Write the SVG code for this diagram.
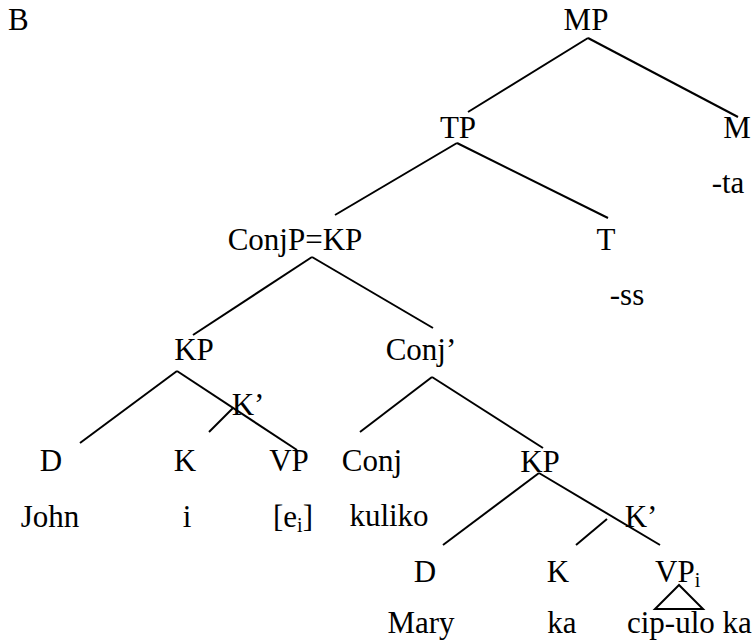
<svg xmlns="http://www.w3.org/2000/svg" width="756" height="642" viewBox="0 0 756 642">
<rect width="756" height="642" fill="#fff"/>
<g font-family="Liberation Serif" font-size="31" fill="#000">
<text x="8" y="30">B</text>
<g id="connectors" stroke="#000" stroke-width="2" fill="none">
<line x1="588" y1="38" x2="468" y2="112"/>
<line x1="588" y1="38" x2="738" y2="117"/>
<line x1="457" y1="143" x2="335" y2="215"/>
<line x1="457" y1="143" x2="608" y2="218"/>
<line x1="312" y1="257" x2="193" y2="335"/>
<line x1="312" y1="257" x2="433" y2="328"/>
<line x1="177" y1="371" x2="80" y2="443"/>
<line x1="177" y1="371" x2="297" y2="450"/>
<line x1="233" y1="408" x2="209" y2="432"/>
<line x1="432" y1="377" x2="360" y2="432"/>
<line x1="432" y1="377" x2="543" y2="448"/>
<line x1="539" y1="473" x2="443" y2="545"/>
<line x1="539" y1="473" x2="660" y2="545"/>
<line x1="607" y1="519" x2="576" y2="545"/>
<polygon points="679,585 655,609 703,609"/>
</g>
<g text-anchor="middle">
<g id="MP"><text x="586" y="30">MP</text></g>
<g id="TP"><text x="458" y="138">TP</text></g>
<g id="M"><text x="737" y="138">M</text></g>
<g id="ta"><text x="728" y="193">-ta</text></g>
<g id="ConjP"><text x="295" y="250">ConjP=KP</text></g>
<g id="T"><text x="606" y="250">T</text></g>
<g id="ss"><text x="627" y="305">-ss</text></g>
<g id="KP1"><text x="194" y="360">KP</text></g>
<g id="Conjbar"><text x="421" y="360">Conj’</text></g>
<g id="Kbar1"><text x="248" y="415">K’</text></g>
<g id="D1"><text x="51" y="471">D</text></g>
<g id="K1"><text x="185" y="471">K</text></g>
<g id="VP1"><text x="289" y="471">VP</text></g>
<g id="Conj"><text x="372" y="471">Conj</text></g>
<g id="KP2"><text x="540" y="472">KP</text></g>
<g id="John"><text x="50" y="527">John</text></g>
<g id="i"><text x="187" y="527">i</text></g>
<g id="kuliko"><text x="389" y="526">kuliko</text></g>
<g id="Kbar2"><text x="641" y="527">K’</text></g>
<g id="D2"><text x="425" y="582">D</text></g>
<g id="K2"><text x="558" y="582">K</text></g>
<g id="Mary"><text x="421" y="633">Mary</text></g>
<g id="ka"><text x="562" y="633">ka</text></g>
</g>
<g id="ei"><text x="273" y="527">[e<tspan font-size="20" dy="5">i</tspan><tspan dy="-5">]</tspan></text></g>
<g id="VP2"><text x="655" y="582">VP<tspan font-size="20" dy="5">i</tspan></text></g>
<g id="cipulo"><text x="627" y="633">cip-ulo ka</text></g>
</g>
</svg>
